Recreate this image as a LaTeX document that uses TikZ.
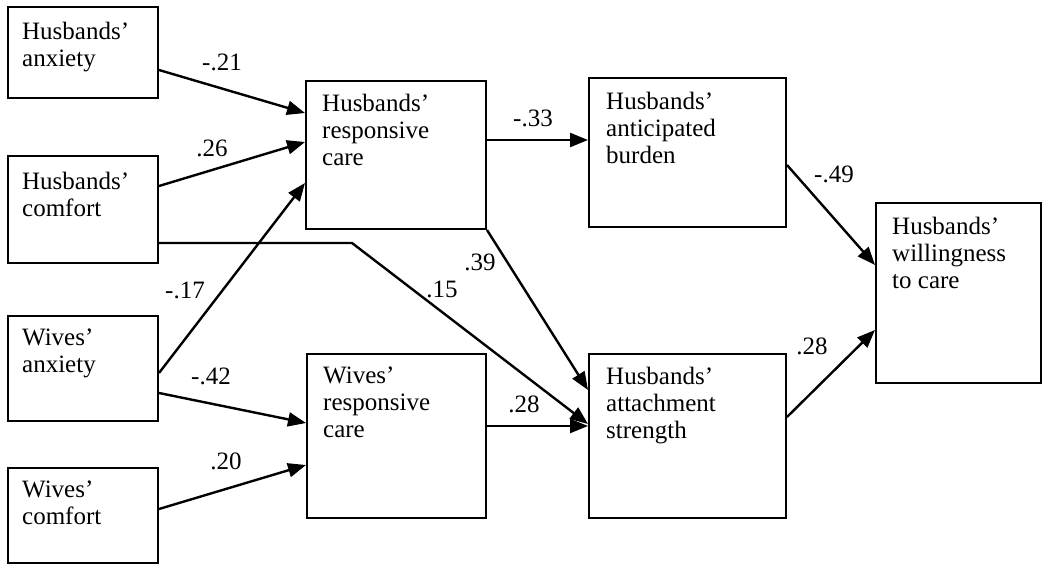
\documentclass[tikz,border=0pt]{standalone}
\usepackage{fontspec}
\setmainfont{Liberation Serif}
\usetikzlibrary{arrows.meta}
\begin{document}
\begin{tikzpicture}[x=1pt,y=-1pt,
 box/.style={draw, line width=2pt, inner sep=0pt, anchor=north west},
 txt/.style={anchor=north west, inner sep=0pt, align=left, font=\fontsize{25}{27}\selectfont},
 lbl/.style={inner sep=0pt, font=\fontsize{25}{27}\selectfont},
 arr/.style={line width=2.4pt, -{Triangle[length=18pt,width=14pt]}}]
\useasboundingbox (0,0) rectangle (1042,565);
% boxes
\node[box, minimum width=150pt, minimum height=91pt] (ha) at (7,6) {};
\node[box, minimum width=150pt, minimum height=107pt] (hc) at (7,155) {};
\node[box, minimum width=150pt, minimum height=105pt] (wa) at (7,315) {};
\node[box, minimum width=150pt, minimum height=95pt] (wc) at (7,467) {};
\node[box, minimum width=180pt, minimum height=148pt] (hrc) at (305,80) {};
\node[box, minimum width=197pt, minimum height=149pt] (bur) at (588,77) {};
\node[box, minimum width=179pt, minimum height=164pt] (wrc) at (306,353) {};
\node[box, minimum width=197pt, minimum height=164pt] (att) at (588,353) {};
\node[box, minimum width=165pt, minimum height=180pt] (will) at (875,202) {};
% texts
\node[txt] (hat) at (22,22) {Husbands’\\anxiety};
\node[txt] (hct) at (22,172) {Husbands’\\comfort};
\node[txt] (wat) at (22,329) {Wives’\\anxiety};
\node[txt] (wct) at (22,481) {Wives’\\comfort};
\node[txt] (hrct) at (322,94) {Husbands’\\responsive\\care};
\node[txt] (burt) at (606,92) {Husbands’\\anticipated\\burden};
\node[txt] (wrct) at (323,367) {Wives’\\responsive\\care};
\node[txt] (attt) at (606,367) {Husbands’\\attachment\\strength};
\node[txt] (willt) at (892,217) {Husbands’\\willingness\\to care};
% connectors
\draw[arr] ([yshift=-64pt]ha.north east) -- ([yshift=-33pt]hrc.north west);
\draw[arr] ([yshift=-31pt]hc.north east) -- ([yshift=-62pt]hrc.north west);
\draw[arr] ([yshift=-58pt]wa.north east) -- ([yshift=-103pt]hrc.north west);
\draw[arr] ([yshift=-78pt]wa.north east) -- ([yshift=-70pt]wrc.north west);
\draw[arr] ([yshift=-42pt]wc.north east) -- ([yshift=-112pt]wrc.north west);
\draw[arr] ([yshift=-88pt]hc.north east) -- ++(193,0) -- ([yshift=-71pt]att.north west);
\draw[arr] (hrc.south east) -- ([yshift=-37pt]att.north west);
\draw[arr] ([yshift=-60pt]hrc.north east) -- ([yshift=-63pt]bur.north west);
\draw[arr] ([yshift=-73pt]wrc.north east) -- ([yshift=-73pt]att.north west);
\draw[arr] ([yshift=-88pt]bur.north east) -- ([yshift=-63pt]will.north west);
\draw[arr] ([yshift=-64pt]att.north east) -- ([yshift=-128pt]will.north west);
% labels
\node[lbl] (l1) at (222,62) {-.21};
\node[lbl] (l2) at (212,148) {.26};
\node[lbl] (l3) at (185,290) {-.17};
\node[lbl] (l4) at (211,376) {-.42};
\node[lbl] (l5) at (226,461) {.20};
\node[lbl] (l6) at (533,118) {-.33};
\node[lbl] (l7) at (480,262) {.39};
\node[lbl] (l8) at (442,289) {.15};
\node[lbl] (l9) at (524,404) {.28};
\node[lbl] (l10) at (834,174) {-.49};
\node[lbl] (l11) at (812,346) {.28};
\end{tikzpicture}
\end{document}
